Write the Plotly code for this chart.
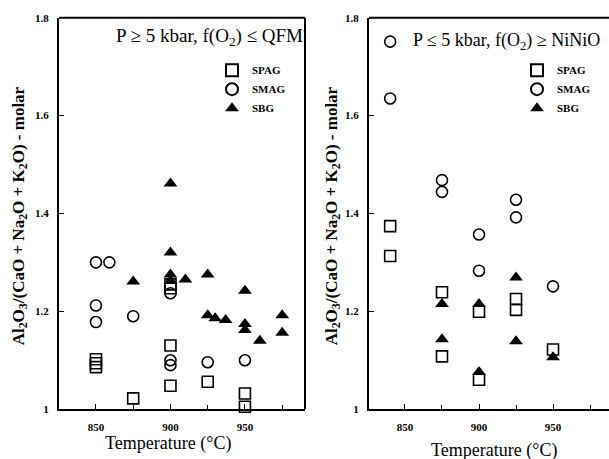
import plotly.graph_objects as go

# ---------------- data ----------------
# Left panel: P >= 5 kbar, f(O2) <= QFM
spag_t_left = [850, 850, 850, 875, 900, 900, 900, 900, 925, 950, 950]
spag_y_left = [1.102, 1.094, 1.086, 1.022, 1.255, 1.247, 1.130, 1.048, 1.056, 1.032, 1.005]
smag_t_left = [850, 859, 850, 850, 875, 900, 900, 900, 925, 950]
smag_y_left = [1.300, 1.300, 1.212, 1.178, 1.190, 1.237, 1.100, 1.090, 1.096, 1.100]
sbg_t_left = [875, 900, 900, 900, 900, 910, 925, 925, 930, 937, 950, 950, 950, 960, 975, 975]
sbg_y_left = [1.261, 1.461, 1.320, 1.275, 1.262, 1.265, 1.275, 1.192, 1.186, 1.182,
              1.242, 1.174, 1.162, 1.140, 1.192, 1.156]

# Right panel: P <= 5 kbar, f(O2) >= NiNiO
spag_t_right = [840, 840, 875, 875, 900, 900, 925, 925, 950]
spag_y_right = [1.374, 1.313, 1.239, 1.108, 1.199, 1.060, 1.225, 1.203, 1.122]
smag_t_right = [840, 840, 875, 875, 900, 900, 925, 925, 950]
smag_y_right = [1.751, 1.635, 1.468, 1.444, 1.357, 1.283, 1.428, 1.392, 1.251]
sbg_t_right = [875, 875, 900, 900, 925, 925, 950]
sbg_y_right = [1.215, 1.143, 1.215, 1.076, 1.269, 1.139, 1.106]

series_names = ["SPAG", "SMAG", "SBG"]
x_tick_vals = [850, 900, 950]
y_tick_vals = [1, 1.2, 1.4, 1.6, 1.8]
y_tick_text = ["1", "1.2", "1.4", "1.6", "1.8"]
panel_titles = ["P \u2265 5 kbar, f(O<sub>2</sub>) \u2264 QFM",
                "P \u2264 5 kbar, f(O<sub>2</sub>) \u2265 NiNiO"]
x_title = "Temperature (\u00b0C)"
y_title = "Al<sub>2</sub>O<sub>3</sub>/(CaO + Na<sub>2</sub>O + K<sub>2</sub>O) - molar"

# ---------------- styling ----------------
W, H = 609, 459
SERIF = "Liberation Serif"
marker_styles = {
    "SPAG": dict(symbol="square-open", size=11, color="black", line=dict(width=1.6, color="black")),
    "SMAG": dict(symbol="circle-open", size=11, color="black", line=dict(width=1.6, color="black")),
    "SBG": dict(symbol="triangle-up", size=12, color="black", line=dict(width=0)),
}

def fx(p):
    return p / W

def fy(p):
    return 1 - p / H

fig = go.Figure()

left = [(spag_t_left, spag_y_left), (smag_t_left, smag_y_left), (sbg_t_left, sbg_y_left)]
right = [(spag_t_right, spag_y_right), (smag_t_right, smag_y_right), (sbg_t_right, sbg_y_right)]

for name, (t, y) in zip(series_names, left):
    fig.add_trace(go.Scatter(x=t, y=y, mode="markers", name=name, marker=marker_styles[name],
                             xaxis="x", yaxis="y", legend="legend", cliponaxis=False))
for name, (t, y) in zip(series_names, right):
    fig.add_trace(go.Scatter(x=t, y=y, mode="markers", name=name, marker=marker_styles[name],
                             xaxis="x2", yaxis="y2", legend="legend2", cliponaxis=False))

ydom = [fy(414), fy(12)]
tickfont = dict(family=SERIF, size=11, color="black", weight="bold")
legfont = dict(family=SERIF, size=11, color="black", weight="bold")

xaxis_common = dict(
    tickvals=x_tick_vals, ticks="inside", ticklen=5, tickwidth=1, tickcolor="black",
    minor=dict(dtick=25, tick0=825, ticks="inside", ticklen=4, tickwidth=1, tickcolor="black",
               showgrid=False),
    showgrid=False, zeroline=False, showline=True, linecolor="black", linewidth=2,
    tickfont=tickfont, ticklabelstandoff=7, mirror=False,
)
yaxis_common = dict(
    tickvals=y_tick_vals, ticktext=y_tick_text, range=[1, 1.8], ticks="inside", ticklen=5,
    tickwidth=1, tickcolor="black", showgrid=False, zeroline=False, showline=True,
    linecolor="black", linewidth=2, tickfont=tickfont, ticklabelstandoff=6, mirror=False,
)

border = dict(color="black", width=2)
fig.update_layout(
    width=W, height=H, margin=dict(l=0, r=0, t=0, b=0),
    paper_bgcolor="white", plot_bgcolor="white",
    xaxis=dict(domain=[fx(59), fx(305)], range=[825.2, 990.3], anchor="y", **xaxis_common),
    yaxis=dict(domain=ydom, anchor="x", **yaxis_common),
    xaxis2=dict(domain=[fx(369), 1.0], range=[825.7, 987.8], anchor="y2", **xaxis_common),
    yaxis2=dict(domain=ydom, anchor="x2", **yaxis_common),
    legend=dict(x=fx(212), y=fy(51), xanchor="left", yanchor="top", bgcolor="rgba(0,0,0,0)",
                font=legfont, tracegroupgap=0, itemsizing="constant"),
    legend2=dict(x=fx(517), y=fy(51), xanchor="left", yanchor="top", bgcolor="rgba(0,0,0,0)",
                 font=legfont, tracegroupgap=0, itemsizing="constant"),
    showlegend=True,
    shapes=[
        dict(type="line", xref="x domain", yref="y domain", x0=0, x1=1, y0=1, y1=1, line=border),
        dict(type="line", xref="x domain", yref="y domain", x0=1, x1=1, y0=0, y1=1, line=border),
        dict(type="line", xref="x2 domain", yref="y2 domain", x0=0, x1=1, y0=1, y1=1, line=border),
        # the reference has no right border on the second panel (it runs off the page)
        dict(type="rect", xref="paper", yref="paper", x0=fx(602), x1=1.0, y0=fy(410), y1=fy(16),
             fillcolor="white", line=dict(width=0), layer="above"),
    ],
)

annotations = [
    dict(text=panel_titles[0], x=fx(305), y=fy(32), xref="paper", yref="paper",
         xanchor="right", yanchor="middle", showarrow=False,
         font=dict(family=SERIF, size=19, color="black")),
    dict(text=panel_titles[1], x=fx(411), y=fy(36), xref="paper", yref="paper",
         xanchor="left", yanchor="middle", showarrow=False,
         font=dict(family=SERIF, size=18, color="black")),
    dict(text=x_title, x=fx(168), y=fy(449), xref="paper", yref="paper",
         xanchor="center", yanchor="middle", showarrow=False,
         font=dict(family=SERIF, size=18, color="black")),
    dict(text=x_title, x=fx(494), y=fy(456), xref="paper", yref="paper",
         xanchor="center", yanchor="middle", showarrow=False,
         font=dict(family=SERIF, size=18, color="black")),
    dict(text=y_title, x=fx(20), y=fy(216), xref="paper", yref="paper", textangle=-90,
         xanchor="center", yanchor="middle", showarrow=False,
         font=dict(family=SERIF, size=17, color="black", weight="bold")),
    dict(text=y_title, x=fx(333), y=fy(216), xref="paper", yref="paper", textangle=-90,
         xanchor="center", yanchor="middle", showarrow=False,
         font=dict(family=SERIF, size=17, color="black", weight="bold")),
]
fig.update_layout(annotations=annotations)

fig.write_html("out.html")
